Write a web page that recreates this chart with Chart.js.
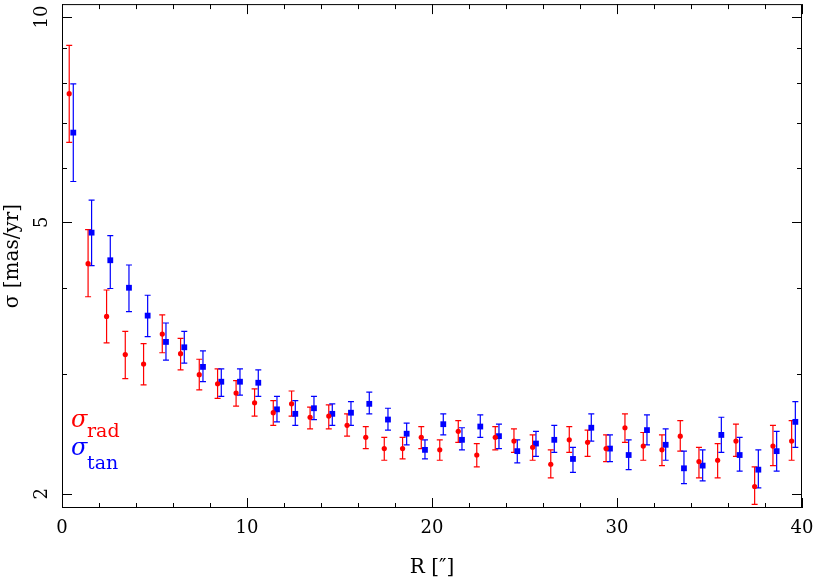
<!DOCTYPE html>
<html>
<head>
<meta charset="utf-8">
<script src="https://cdn.jsdelivr.net/npm/chart.js@4/dist/chart.umd.min.js"></script>
<style>
  html, body { margin: 0; padding: 0; background: #fff; }
  #wrap { width: 815px; height: 581px; }
</style>
</head>
<body>
<div id="wrap"><canvas id="sigma-chart" width="815" height="581"></canvas></div>
<script>
// Dữ liệu: sigma_rad (đỏ)
const radR   = [0.39, 1.41, 2.41, 3.42, 4.41, 5.42, 6.41, 7.42, 8.41, 9.41, 10.41, 11.42, 12.41, 13.41, 14.42, 15.41, 16.42, 17.42, 18.41, 19.42,
                20.42, 21.42, 22.42, 23.42, 24.43, 25.44, 26.42, 27.42, 28.41, 29.41, 30.43, 31.42, 32.43, 33.42, 34.43, 35.44, 36.43, 37.44, 38.43, 39.44];
const radSig = [7.72, 4.35, 3.64, 3.20, 3.10, 3.43, 3.21, 2.99, 2.90, 2.81, 2.72, 2.63, 2.71, 2.59, 2.60, 2.52, 2.42, 2.33, 2.33, 2.42,
                2.32, 2.47, 2.28, 2.42, 2.39, 2.34, 2.21, 2.40, 2.38, 2.33, 2.50, 2.35, 2.32, 2.43, 2.23, 2.24, 2.39, 2.05, 2.35, 2.39];
const radHi  = [9.09, 4.88, 3.98, 3.46, 3.32, 3.66, 3.38, 3.15, 3.05, 2.93, 2.85, 2.74, 2.83, 2.68, 2.70, 2.62, 2.51, 2.42, 2.42, 2.51,
                2.40, 2.56, 2.37, 2.51, 2.49, 2.44, 2.32, 2.51, 2.48, 2.44, 2.62, 2.46, 2.44, 2.56, 2.34, 2.37, 2.53, 2.19, 2.52, 2.56];
const radLo  = [6.55, 3.89, 3.33, 2.95, 2.89, 3.22, 3.04, 2.84, 2.76, 2.69, 2.60, 2.52, 2.60, 2.49, 2.49, 2.43, 2.33, 2.24, 2.25, 2.33,
                2.24, 2.38, 2.19, 2.32, 2.30, 2.24, 2.11, 2.30, 2.27, 2.23, 2.38, 2.24, 2.20, 2.31, 2.11, 2.11, 2.27, 1.93, 2.20, 2.24];

// Dữ liệu: sigma_tan (xanh)
const tanR   = [0.61, 1.60, 2.61, 3.62, 4.63, 5.62, 6.61, 7.62, 8.61, 9.62, 10.61, 11.62, 12.61, 13.62, 14.61, 15.62, 16.61, 17.62, 18.63, 19.62,
                20.61, 21.62, 22.61, 23.62, 24.61, 25.62, 26.61, 27.62, 28.61, 29.62, 30.63, 31.62, 32.63, 33.62, 34.63, 35.64, 36.63, 37.64, 38.63, 39.64];
const tanSig = [6.77, 4.83, 4.40, 4.01, 3.65, 3.34, 3.28, 3.07, 2.92, 2.92, 2.91, 2.66, 2.62, 2.67, 2.62, 2.63, 2.71, 2.57, 2.45, 2.32,
                2.53, 2.40, 2.51, 2.43, 2.31, 2.37, 2.40, 2.25, 2.50, 2.33, 2.28, 2.48, 2.36, 2.18, 2.20, 2.44, 2.28, 2.17, 2.31, 2.55];
const tanHi  = [7.98, 5.39, 4.78, 4.33, 3.91, 3.56, 3.46, 3.24, 3.05, 3.05, 3.04, 2.78, 2.74, 2.78, 2.71, 2.73, 2.82, 2.67, 2.54, 2.40,
                2.62, 2.50, 2.61, 2.53, 2.40, 2.47, 2.52, 2.34, 2.62, 2.44, 2.40, 2.61, 2.49, 2.31, 2.32, 2.59, 2.42, 2.32, 2.47, 2.73];
const tanLo  = [5.74, 4.32, 4.00, 3.70, 3.40, 3.14, 3.11, 2.92, 2.78, 2.79, 2.78, 2.55, 2.52, 2.57, 2.52, 2.52, 2.62, 2.48, 2.36, 2.25,
                2.44, 2.32, 2.42, 2.33, 2.22, 2.27, 2.30, 2.15, 2.39, 2.23, 2.17, 2.36, 2.24, 2.07, 2.09, 2.30, 2.16, 2.04, 2.16, 2.34];

// Vạch chia trục
const xMajorTicks = [0, 10, 20, 30, 40];
const xMinorTicks = [2, 4, 6, 8, 12, 14, 16, 18, 22, 24, 26, 28, 32, 34, 36, 38];
const yMajorTicks = [2, 5, 10];
const yMinorTicks = [3, 4, 6, 7, 8, 9];

// Nhãn
const xTitle = 'R [\u2033]';
const yTitle = '\u03c3 [mas/yr]';
const seriesNames = ['rad', 'tan'];

const RED = '#ff0000';
const BLUE = '#0000ff';
const SERIF = "'DejaVu Serif', 'Liberation Serif', serif";

// Ghép x, y thành điểm cho scatter
function toPoints(xs, ys) {
    return xs.map((x, i) => ({ x: x, y: ys[i] }));
}

// Vẽ thanh sai số (trước khi vẽ điểm)
const errorBarPlugin = {
    id: 'errorBars',
    beforeDatasetsDraw(chart) {
        const ctx = chart.ctx;
        const xs = chart.scales.x, ys = chart.scales.y;
        const sets = [
            { r: radR, lo: radLo, hi: radHi, color: RED },
            { r: tanR, lo: tanLo, hi: tanHi, color: BLUE }
        ];
        ctx.save();
        ctx.lineWidth = 1.2;
        sets.forEach(s => {
            ctx.strokeStyle = s.color;
            s.r.forEach((r, i) => {
                const px = xs.getPixelForValue(r);
                const pLo = ys.getPixelForValue(s.lo[i]);
                const pHi = ys.getPixelForValue(s.hi[i]);
                ctx.beginPath();
                ctx.moveTo(px, pLo); ctx.lineTo(px, pHi);
                ctx.moveTo(px - 3, pLo); ctx.lineTo(px + 3, pLo);
                ctx.moveTo(px - 3, pHi); ctx.lineTo(px + 3, pHi);
                ctx.stroke();
            });
        });
        ctx.restore();
    }
};

// Khung, vạch chia hướng vào trong, và chú thích sigma
const framePlugin = {
    id: 'frame',
    afterDraw(chart) {
        const ctx = chart.ctx;
        const a = chart.chartArea;
        const xs = chart.scales.x, ys = chart.scales.y;
        ctx.save();
        ctx.strokeStyle = '#000';
        ctx.lineWidth = 1;
        ctx.strokeRect(a.left + 0.5, a.top + 0.5, a.right - a.left - 1, a.bottom - a.top - 1);

        ctx.beginPath();
        const xTick = (v, len) => {
            const p = Math.round(xs.getPixelForValue(v)) + 0.5;
            ctx.moveTo(p, a.bottom); ctx.lineTo(p, a.bottom - len);
            ctx.moveTo(p, a.top); ctx.lineTo(p, a.top + len);
        };
        const yTick = (v, len) => {
            const p = Math.round(ys.getPixelForValue(v)) + 0.5;
            ctx.moveTo(a.left, p); ctx.lineTo(a.left + len, p);
            ctx.moveTo(a.right, p); ctx.lineTo(a.right - len, p);
        };
        xMajorTicks.forEach(v => xTick(v, 10));
        xMinorTicks.forEach(v => xTick(v, 5));
        yMajorTicks.forEach(v => yTick(v, 10));
        yMinorTicks.forEach(v => yTick(v, 5));
        ctx.stroke();

        // Chú thích sigma_rad / sigma_tan
        const items = [
            { color: RED, sub: seriesNames[0], y: 427, subY: 437 },
            { color: BLUE, sub: seriesNames[1], y: 455, subY: 469 }
        ];
        ctx.textBaseline = 'alphabetic';
        ctx.textAlign = 'left';
        items.forEach(it => {
            ctx.fillStyle = it.color;
            ctx.font = 'italic 24px ' + SERIF;
            ctx.fillText('\u03c3', 71, it.y);
            ctx.font = '19px ' + SERIF;
            ctx.fillText(it.sub, 87, it.subY);
        });
        ctx.restore();
    }
};

const ctx = document.getElementById('sigma-chart').getContext('2d');
const sigmaChart = new Chart(ctx, {
    type: 'scatter',
    data: {
        datasets: [
            {
                label: 'sigma_rad',
                data: toPoints(radR, radSig),
                backgroundColor: RED,
                borderWidth: 0,
                pointStyle: 'circle',
                pointRadius: 2.6
            },
            {
                label: 'sigma_tan',
                data: toPoints(tanR, tanSig),
                backgroundColor: BLUE,
                borderWidth: 0,
                pointStyle: 'rect',
                pointRadius: 4.1
            }
        ]
    },
    options: {
        responsive: false,
        animation: false,
        layout: { padding: { left: 0, right: 13, top: 2, bottom: 0 } },
        plugins: {
            legend: { display: false },
            tooltip: { enabled: false }
        },
        scales: {
            x: {
                type: 'linear',
                min: 0,
                max: 40,
                grid: { display: false, drawTicks: false },
                border: { display: false },
                afterBuildTicks: s => { s.ticks = xMajorTicks.map(v => ({ value: v })); },
                // bỏ phần đệm do nhãn tràn ra ngoài để vùng vẽ cố định
                afterFit: s => { s.height = 73; s.paddingLeft = 0; s.paddingRight = 0; },
                ticks: {
                    color: '#000',
                    font: { family: SERIF, size: 18 },
                    padding: 10,
                    maxRotation: 0,
                    callback: v => String(v)
                },
                title: {
                    display: true,
                    text: xTitle,
                    color: '#000',
                    font: { family: SERIF, size: 20 },
                    padding: { top: 0, bottom: 1 }
                }
            },
            y: {
                type: 'logarithmic',
                min: 1.9066,
                max: 10.447,
                grid: { display: false, drawTicks: false },
                border: { display: false },
                afterBuildTicks: s => { s.ticks = yMajorTicks.map(v => ({ value: v })); },
                afterFit: s => { s.width = 62; s.paddingTop = 0; s.paddingBottom = 0; },
                ticks: {
                    color: '#000',
                    font: { family: SERIF, size: 18 },
                    padding: 8,
                    minRotation: 90,
                    maxRotation: 90,
                    crossAlign: 'center',
                    callback: v => String(v)
                },
                title: {
                    display: true,
                    text: yTitle,
                    color: '#000',
                    font: { family: SERIF, size: 20 },
                    padding: { top: 1, bottom: 0 }
                }
            }
        }
    },
    plugins: [errorBarPlugin, framePlugin]
});
</script>
</body>
</html>
